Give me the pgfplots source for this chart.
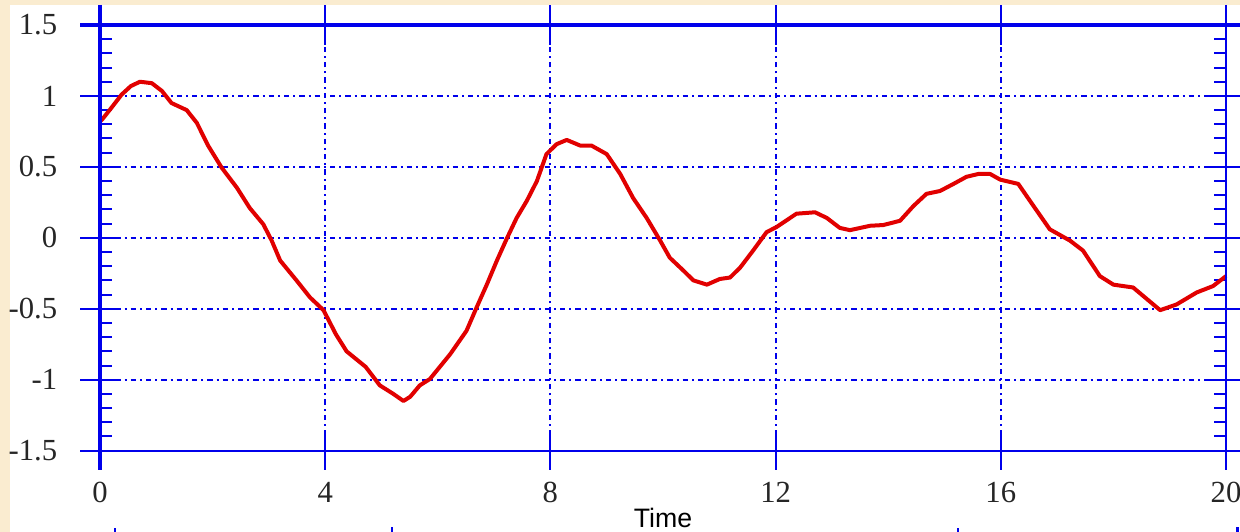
\documentclass[border=0pt]{standalone}
\usepackage{fontspec}
\setmainfont{Liberation Serif}
\newfontfamily\arial{Liberation Sans}
\usepackage{pgfplots}
\pgfplotsset{compat=1.18}
\definecolor{cream}{RGB}{250,236,208}
\definecolor{gblue}{RGB}{0,0,235}
\definecolor{cred}{RGB}{225,0,0}
\begin{document}
\begin{tikzpicture}[x=1pt,y=1pt]
\fill[cream] (0,0) rectangle (372,159.6);
\useasboundingbox (0,0) rectangle (372,159.6);
\fill[white] (3,0) rectangle (372,158.1);
\begin{axis}[
  at={(30pt,24.4pt)}, anchor=south west,
  scale only axis, width=337.8pt, height=127.7pt,
  xmin=0, xmax=20, ymin=-1.5, ymax=1.5,
  xtick={0,4,8,12,16,20},
  ytick={-1.5,-1,-0.5,0,0.5,1,1.5},
  minor y tick num=4,
  axis line style={gblue, line width=0.6pt},
  every tick/.style={gblue, line width=0.6pt},
  major tick length=6pt, minor tick length=3.5pt,
  tick align=inside,
  grid=major,
  major grid style={gblue, line width=0.65pt, dash pattern=on 1.6pt off 1.2pt on 0.6pt off 1.2pt},
  ticklabel style={font=\fontsize{9.2}{10}\selectfont, text=black!85},
  /pgf/number format/assume math mode=true,
  xticklabel style={yshift=-6pt},
  yticklabel style={xshift=-9.3pt},
  clip=false,
]
\addplot[cred, line width=1.2pt, line join=round] coordinates {
(0.00,0.82) (0.05,0.84) (0.21,0.92) (0.385,1.01) (0.55,1.07) (0.71,1.10)
(0.92,1.09) (1.10,1.035) (1.27,0.95) (1.54,0.90) (1.72,0.81) (1.92,0.65)
(2.16,0.495) (2.43,0.354) (2.66,0.21) (2.90,0.096) (3.05,-0.02) (3.20,-0.16)
(3.49,-0.30) (3.73,-0.42) (3.97,-0.51) (4.19,-0.68) (4.38,-0.80) (4.72,-0.91)
(4.97,-1.04) (5.21,-1.10) (5.39,-1.15) (5.51,-1.12) (5.68,-1.04) (5.86,-0.995)
(6.22,-0.82) (6.51,-0.655) (6.69,-0.49) (6.87,-0.33) (7.05,-0.16) (7.22,-0.01)
(7.40,0.14) (7.58,0.26) (7.76,0.40) (7.93,0.59) (8.11,0.66) (8.29,0.69)
(8.53,0.65) (8.73,0.65) (9.00,0.59) (9.24,0.45) (9.47,0.28) (9.71,0.14)
(9.95,-0.02) (10.12,-0.14) (10.36,-0.23) (10.54,-0.30) (10.78,-0.33) (11.01,-0.29)
(11.19,-0.28) (11.37,-0.21) (11.60,-0.09) (11.84,0.04) (12.02,0.077) (12.37,0.17)
(12.70,0.18) (12.91,0.14) (13.14,0.07) (13.32,0.054) (13.68,0.085) (13.91,0.09)
(14.21,0.12) (14.45,0.225) (14.68,0.31) (14.92,0.33) (15.16,0.38) (15.39,0.43)
(15.60,0.45) (15.81,0.45) (15.99,0.41) (16.31,0.38) (16.58,0.225) (16.87,0.06)
(17.23,-0.02) (17.46,-0.09) (17.76,-0.27) (18.00,-0.33) (18.35,-0.35) (18.83,-0.51)
(19.12,-0.47) (19.48,-0.385) (19.77,-0.34) (20.00,-0.27)
};
\pgfplotsinvokeforeach{0,4,8,12,16,20}{
  \draw[gblue, line width=0.6pt] (axis cs:#1,-1.5) -- ++(0pt,-5.8pt);
  \draw[gblue, line width=0.6pt] (axis cs:#1,1.5) -- ++(0pt,6pt);
}
\pgfplotsinvokeforeach{-1.5,-1,-0.5,0,0.5,1,1.5}{
  \draw[gblue, line width=0.6pt] (axis cs:0,#1) -- ++(-6pt,0pt);
  \draw[gblue, line width=0.6pt] (axis cs:20,#1) -- ++(5pt,0pt);
}
\draw[gblue, line width=1.2pt] ([yshift=6pt]rel axis cs:0,1) -- ([yshift=-5.8pt]rel axis cs:0,0);
\draw[gblue, line width=0.6pt] ([yshift=6pt]rel axis cs:1,1) -- ([yshift=-5.8pt]rel axis cs:1,0);
\draw[gblue, line width=1.2pt] ([xshift=-6pt]rel axis cs:0,1) -- ([xshift=5pt]rel axis cs:1,1);
\draw[gblue, line width=0.6pt] ([xshift=-6pt]rel axis cs:0,0) -- ([xshift=5pt]rel axis cs:1,0);
\node[font=\arial\fontsize{8}{9}\selectfont, anchor=base] at ([yshift=-23pt]rel axis cs:0.5,0) {Time};
\end{axis}
\draw[gblue, line width=0.4pt] (34.5,0) -- (34.5,1.2);
\draw[gblue, line width=0.8pt] (117.6,0) -- (117.6,1.5);
\draw[gblue, line width=0.4pt] (287.4,0) -- (287.4,1.2);
\draw[gblue, line width=0.8pt] (371.2,0) -- (371.2,1.5);
\end{tikzpicture}
\end{document}
